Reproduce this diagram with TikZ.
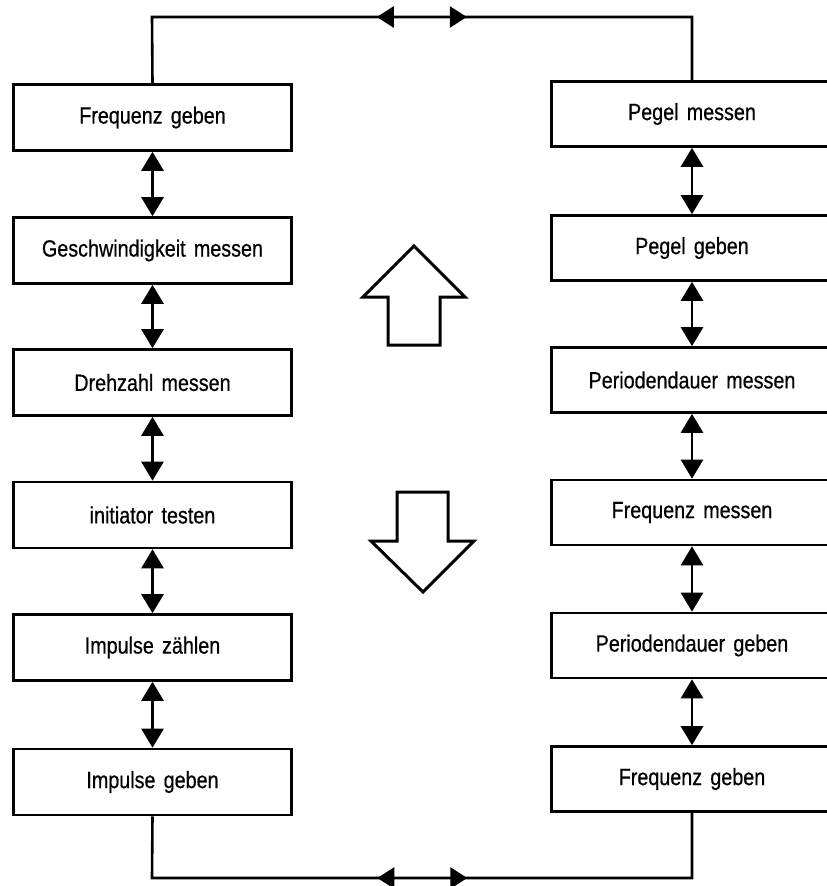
\documentclass[tikz,border=0pt]{standalone}
\usepackage{fontspec}
\setmainfont{Liberation Sans}[FakeStretch=0.84, WordSpace=1.5, FakeBold=0.6]
\usetikzlibrary{arrows.meta,decorations.markings}
\begin{document}
\begin{tikzpicture}[x=1pt,y=-1pt, line width=2.6pt,
 box/.style={draw, rectangle, inner sep=0pt, font=\fontsize{23.5}{26}\selectfont, minimum height=66pt, minimum width=278pt},
 rbox/.style={box, minimum height=65pt, minimum width=281pt},
 link/.style={{Triangle[length=19pt,width=22pt]}-{Triangle[length=19pt,width=22pt]}},
 loopline/.style={postaction={decorate}},
 hollow/.style={line width=3pt, line join=miter}
]
\useasboundingbox (0,0) rectangle (827,886);
\begin{scope}
\clip (0,0) rectangle (827,886);
\node[box] (L1) at (152.5,117.5) {Frequenz geben};
\node[box] (L2) at (152.5,250.5) {Geschwindigkeit messen};
\node[box] (L3) at (152.5,382.5) {Drehzahl messen};
\node[box] (L4) at (152.5,515) {initiator testen};
\node[box] (L5) at (152.5,647.5) {Impulse zählen};
\node[box] (L6) at (152.5,782) {Impulse geben};
\node[rbox] (R1) at (692,114) {Pegel messen};
\node[rbox] (R2) at (692,248) {Pegel geben};
\node[rbox] (R3) at (692,380) {Periodendauer messen};
\node[rbox] (R4) at (692,512.5) {Frequenz messen};
\node[rbox] (R5) at (692,645.5) {Periodendauer geben};
\node[rbox] (R6) at (692,779) {Frequenz geben};
\end{scope}
\foreach \a/\b in {L1/L2,L2/L3,L3/L4,L4/L5,L5/L6,R1/R2,R2/R3,R3/R4,R4/R5,R5/R6}
  \draw[link] (\a.south) -- (\b.north);
\coordinate (tl) at (152,17);
\coordinate (tr) at (692,17);
\coordinate (bl) at (152,878);
\coordinate (br) at (692,878);
\draw[loopline, decoration={markings,
   mark=at position 291pt with {\arrowreversed{Triangle[length=17pt,width=21pt]}},
   mark=at position 381pt with {\arrow{Triangle[length=17pt,width=21pt]}}}]
  (L1.north) -- (tl) -- (tr) -- (R1.north);
\draw[loopline, decoration={markings,
   mark=at position 287pt with {\arrowreversed{Triangle[length=17pt,width=21pt]}},
   mark=at position 377pt with {\arrow{Triangle[length=17pt,width=21pt]}}}]
  (L6.south) -- (bl) -- (br) -- (R6.south);
\draw[hollow] (414,246) -- (465,297) -- (440,297) -- (440,345) -- (388,345) -- (388,297) -- (363,297) -- cycle;
\draw[hollow] (423,592) -- (474,541) -- (448,541) -- (448,492) -- (397,492) -- (397,541) -- (371,541) -- cycle;
\end{tikzpicture}
\end{document}
